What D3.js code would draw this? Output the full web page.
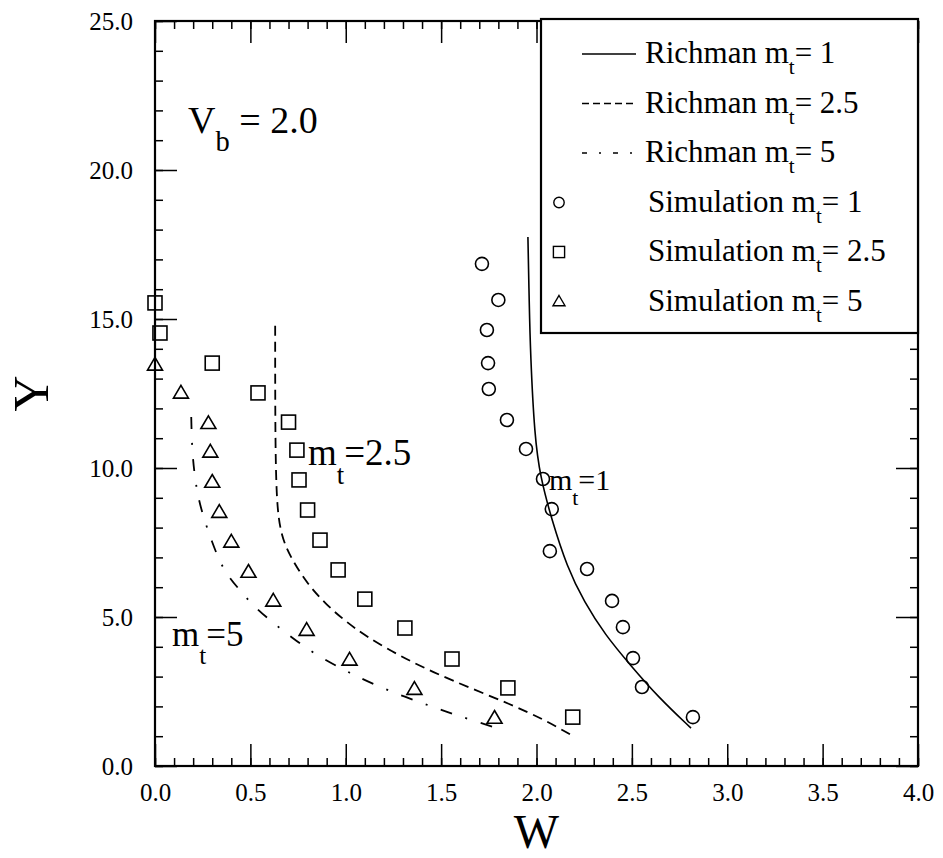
<!DOCTYPE html>
<html>
<head>
<meta charset="utf-8">
<script src="https://cdn.jsdelivr.net/npm/d3@7"></script>
<style>
  body { margin: 0; background: #fff; }
  svg { display: block; }
  text { font-family: "Liberation Serif", "Times New Roman", serif; fill: #000; }
</style>
</head>
<body>
<script>
var SERIF = "'Liberation Serif', 'Times New Roman', serif";

// simulation points [W, Y]
var sim1 = [[2.82,1.64],[2.553,2.65],[2.506,3.62],[2.453,4.66],[2.396,5.54],[2.265,6.61],[2.07,7.21],
  [2.08,8.62],[2.034,9.63],[1.945,10.64],[1.845,11.61],[1.75,12.65],[1.746,13.52],[1.74,14.63],[1.80,15.64],[1.714,16.85]];
var sim25 = [[2.19,1.64],[1.85,2.62],[1.557,3.59],[1.31,4.63],[1.10,5.60],[0.96,6.58],[0.865,7.58],[0.80,8.59],
  [0.755,9.60],[0.744,10.60],[0.70,11.54],[0.54,12.52],[0.30,13.52],[0.026,14.53],[0.0,15.54]];
var sim5 = [[1.78,1.61],[1.36,2.58],[1.02,3.56],[0.795,4.56],[0.62,5.54],[0.49,6.51],[0.40,7.52],[0.337,8.52],
  [0.30,9.53],[0.29,10.54],[0.28,11.5],[0.136,12.52],[0.0,13.46]];

// Richman curves [W, Y]
var rich1 = [[1.955,17.75],[1.962,15.5],[1.968,13.86],[1.99,11.04],[2.02,9.70],[2.08,8.26],[2.16,6.68],
  [2.25,5.5],[2.36,4.4],[2.49,3.4],[2.64,2.3],[2.81,1.27]];
var rich25 = [[0.63,14.77],[0.63,11.71],[0.635,8.93],[0.66,7.7],[0.72,6.9],[0.80,6.1],[0.90,5.4],[1.0,4.85],
  [1.111,4.33],[1.284,3.69],[1.457,3.15],[1.651,2.62],[1.861,2.08],[2.045,1.54],[2.176,1.06]];
var rich5 = [[0.19,11.71],[0.194,10.6],[0.21,9.6],[0.236,8.69],[0.30,7.48],[0.357,6.58],[0.435,5.97],
  [0.52,5.34],[0.62,4.8],[0.72,4.3],[0.83,3.79],[0.95,3.36],[1.06,3.0],[1.18,2.65],[1.31,2.32],
  [1.44,2.02],[1.56,1.75],[1.69,1.48],[1.82,1.21]];

var xMajor = [0, 0.5, 1, 1.5, 2, 2.5, 3, 3.5, 4];
var yMajor = [0, 5, 10, 15, 20, 25];

var legendItems = [
  {label: "Richman", val: "= 1", kind: "line", dash: null},
  {label: "Richman", val: "= 2.5", kind: "line", dash: "7,4"},
  {label: "Richman", val: "= 5", kind: "line", dash: "5,12,2,12"},
  {label: "Simulation", val: "= 1", kind: "circle"},
  {label: "Simulation", val: "= 2.5", kind: "square"},
  {label: "Simulation", val: "= 5", kind: "triangle"}
];

var width = 943, height = 858;
var margin = {top: 21, right: 25, bottom: 92, left: 155};

var x = d3.scaleLinear().domain([0, 4]).range([margin.left, width - margin.right]);
var y = d3.scaleLinear().domain([0, 25]).range([height - margin.bottom, margin.top]);

var svg = d3.select("body").append("svg")
    .attr("width", width)
    .attr("height", height);

// minor ticks
var xMinor = d3.range(0, 4.0001, 0.1).map(function(d){ return +d.toFixed(1); });
var yMinor = d3.range(0, 25.0001, 1);

function styleAxis(g){
  g.attr("font-family", SERIF).attr("font-size", 25);
  g.select(".domain").remove();
  g.selectAll("line").attr("stroke", "#000").attr("stroke-width", 1.5);
  g.selectAll("text").style("font-family", SERIF).attr("font-size", 25).attr("fill", "#000");
}

// bottom
svg.append("g").attr("transform", "translate(0," + y(0) + ")")
  .call(d3.axisBottom(x).tickValues(xMinor).tickSize(-8).tickFormat(""))
  .call(styleAxis);
svg.append("g").attr("transform", "translate(0," + y(0) + ")")
  .call(d3.axisBottom(x).tickValues(xMajor).tickSize(-22).tickPadding(17).tickFormat(d3.format(".1f")))
  .call(styleAxis);
// top
svg.append("g").attr("transform", "translate(0," + y(25) + ")")
  .call(d3.axisTop(x).tickValues(xMinor).tickSize(-8).tickFormat(""))
  .call(styleAxis);
svg.append("g").attr("transform", "translate(0," + y(25) + ")")
  .call(d3.axisTop(x).tickValues(xMajor).tickSize(-22).tickFormat(""))
  .call(styleAxis);
// left
svg.append("g").attr("transform", "translate(" + x(0) + ",0)")
  .call(d3.axisLeft(y).tickValues(yMinor).tickSize(-8).tickFormat(""))
  .call(styleAxis);
svg.append("g").attr("transform", "translate(" + x(0) + ",0)")
  .call(d3.axisLeft(y).tickValues(yMajor).tickSize(-22).tickPadding(22).tickFormat(d3.format(".1f")))
  .call(styleAxis);
// right
svg.append("g").attr("transform", "translate(" + x(4) + ",0)")
  .call(d3.axisRight(y).tickValues(yMinor).tickSize(-8).tickFormat(""))
  .call(styleAxis);
svg.append("g").attr("transform", "translate(" + x(4) + ",0)")
  .call(d3.axisRight(y).tickValues(yMajor).tickSize(-22).tickFormat(""))
  .call(styleAxis);

// frame
svg.append("rect")
  .attr("x", x(0)).attr("y", y(25))
  .attr("width", x(4) - x(0)).attr("height", y(0) - y(25))
  .attr("fill", "none").attr("stroke", "#000").attr("stroke-width", 2.2);

// curves
var line = d3.line()
  .x(function(d){ return x(d[0]); })
  .y(function(d){ return y(d[1]); })
  .curve(d3.curveBasis);

svg.append("path").datum(rich1).attr("d", line)
  .attr("fill", "none").attr("stroke", "#000").attr("stroke-width", 1.6);
svg.append("path").datum(rich25).attr("d", line)
  .attr("fill", "none").attr("stroke", "#000").attr("stroke-width", 1.8)
  .attr("stroke-dasharray", "10,6");
svg.append("path").datum(rich5).attr("d", line)
  .attr("fill", "none").attr("stroke", "#000").attr("stroke-width", 1.8)
  .attr("stroke-dasharray", "12,14,2,14");

// markers
function drawMarker(g, kind, cx, cy, s){
  if(kind === "circle"){
    g.append("circle").attr("cx", cx).attr("cy", cy).attr("r", 6.5 * s);
  } else if(kind === "square"){
    var h = 7 * s;
    g.append("rect").attr("x", cx - h).attr("y", cy - h).attr("width", 2 * h).attr("height", 2 * h);
  } else {
    var r = 7.5 * s;
    g.append("path").attr("d", "M" + cx + "," + (cy - r) + "L" + (cx + r) + "," + (cy + r * 0.7) +
      "L" + (cx - r) + "," + (cy + r * 0.7) + "Z");
  }
}

var marks = svg.append("g").attr("fill", "none").attr("stroke", "#000").attr("stroke-width", 1.6);
sim1.forEach(function(d){ drawMarker(marks, "circle", x(d[0]), y(d[1]), 1); });
sim25.forEach(function(d){ drawMarker(marks, "square", x(d[0]), y(d[1]), 1); });
sim5.forEach(function(d){ drawMarker(marks, "triangle", x(d[0]), y(d[1]), 1); });

// text with subscript
function subText(px, py, size, main, sub, rest, subScale, shift){
  var t = svg.append("text").attr("x", px).attr("y", py).attr("font-size", size);
  t.append("tspan").text(main);
  t.append("tspan").attr("font-size", size * subScale).attr("dy", size * shift).text(sub);
  t.append("tspan").attr("dy", -size * shift).text(rest);
  return t;
}

subText(188, 133, 38, "V", "b", " = 2.0", 0.75, 0.48);
subText(308, 465, 37, "m", "t", "=2.5", 0.72, 0.5);
subText(549, 490, 30, "m", "t", "=1", 0.72, 0.5);
subText(172, 646, 35, "m", "t", "=5", 0.72, 0.5);

// axis titles
svg.append("text")
  .attr("x", (x(0) + x(4)) / 2).attr("y", 848)
  .attr("text-anchor", "middle").attr("font-size", 48).text("W");
svg.append("text")
  .attr("transform", "translate(48," + ((y(0) + y(25)) / 2) + ") rotate(-90)")
  .attr("text-anchor", "middle").attr("font-size", 50).text("Y");

// legend
var lg = svg.append("g");
lg.append("rect")
  .attr("x", 541).attr("y", 19)
  .attr("width", x(4) - 541).attr("height", 333 - 19)
  .attr("fill", "#fff").attr("stroke", "#000").attr("stroke-width", 2.2);

legendItems.forEach(function(d, i){
  var by = 63 + i * 49.5;
  var cy = by - 9;
  if(d.kind === "line"){
    lg.append("line").attr("x1", 582).attr("x2", 636).attr("y1", cy).attr("y2", cy)
      .attr("stroke", "#000").attr("stroke-width", 1.6)
      .attr("stroke-dasharray", d.dash);
  } else {
    var mg = lg.append("g").attr("fill", "none").attr("stroke", "#000").attr("stroke-width", 1.4);
    drawMarker(mg, d.kind, 559, cy, 0.8);
  }
  var tx = d.kind === "line" ? 645 : 648;
  var t = lg.append("text").attr("x", tx).attr("y", by).attr("font-size", 31);
  t.append("tspan").text(d.label + " m");
  t.append("tspan").attr("font-size", 21).attr("dy", 11).text("t");
  t.append("tspan").attr("dy", -11).text(d.val);
});
</script>
</body>
</html>
